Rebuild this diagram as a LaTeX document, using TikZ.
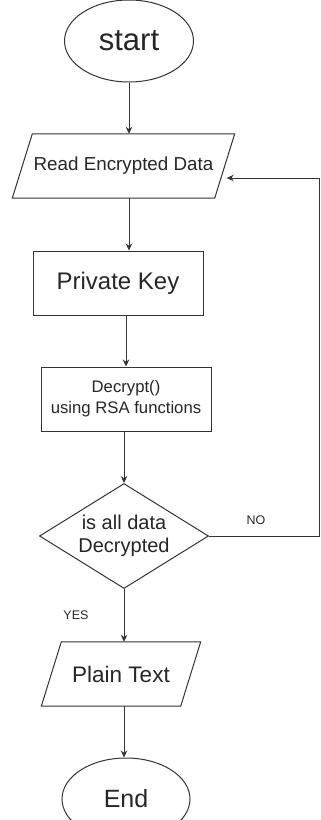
\documentclass[tikz,border=0pt]{standalone}
\usepackage{fontspec}
\setmainfont{Liberation Sans}
\usetikzlibrary{shapes.geometric,arrows.meta}

\begin{document}
\begin{tikzpicture}[x=1pt,y=-1pt]
  \tikzset{
    flow/.style={draw=black!80,line width=1pt,inner sep=0pt,align=center,text=black!85},
    term/.style={flow,ellipse,minimum width=129,minimum height=82},
    io/.style={rectangle,inner sep=0pt,align=center,text=black!85,minimum height=64},
    outline/.style={draw=black!80,line width=1pt,line join=miter},
    proc/.style={flow,rectangle,minimum width=170,minimum height=64},
    choice/.style={flow,diamond,shape aspect=1.6,minimum width=169,minimum height=105},
    arr/.style={draw=black!80,line width=1pt,-{Stealth[length=7pt,width=6.5pt]}},
    lbl/.style={font=\fontsize{12.5}{14}\selectfont,text=black!85}
  }
  \useasboundingbox (0,0) rectangle (321,820);

  \node [term,font=\fontsize{31}{36}\selectfont] (start) at (129,41) {start};
  \node [io,minimum width=202,font=\fontsize{18.8}{22}\selectfont] (read) at (123.5,166) {Read Encrypted Data};
  \node [proc,font=\fontsize{24}{28}\selectfont] (key) at (118,283) {Private Key};
  \node [proc,font=\fontsize{16.7}{21}\selectfont] (dec) at (126,399) {Decrypt()\\using RSA functions};
  \node [choice,font=\fontsize{20}{23}\selectfont] (chk) at (124,536) {is all data\\Decrypted};
  \node [io,minimum width=139,font=\fontsize{22.5}{26}\selectfont] (plain) at (121,674) {Plain Text};
  \node [term,minimum width=128,font=\fontsize{25}{30}\selectfont] (end) at (126,799) {End};
  \coordinate (back) at (319,178);

  % slanted input/output boxes
  \foreach \n in {read,plain}
    \draw [outline] ([xshift=10pt]\n.north west) -- ([xshift=10pt]\n.north east)
      -- ([xshift=-10pt]\n.south east) -- ([xshift=-10pt]\n.south west) -- cycle;

  \draw [arr] (start.south) -- (start.south |- read.north);
  \draw [arr] (read.south -| start) -- (key.north -| start);
  \draw [arr] (key.south -| dec) -- (dec.north);
  \draw [arr] (dec.south -| chk) -- (chk.north);
  \draw [arr] (chk.south) -- (chk.south |- plain.north);
  \draw [arr] (plain.south -| chk) -- (chk |- end.north);
  \draw [arr] (chk.east) -| (back) -- ([xshift=2pt]read.east |- back);

  \node [lbl] (no) at (256,520) {NO};
  \node [lbl] (yes) at (76,615) {YES};
\end{tikzpicture}
\end{document}
